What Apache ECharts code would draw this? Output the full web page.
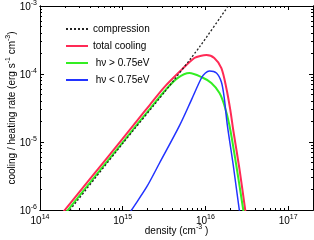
<!DOCTYPE html>
<html><head><meta charset="utf-8">
<script src="https://cdn.jsdelivr.net/npm/echarts@6/dist/echarts.min.js"></script>
<style>html,body{margin:0;padding:0;background:#fff}#c{width:314px;height:240px}</style>
</head><body><div id="c"></div>
<script>
// ---- data ----
const compressionDensity = [2.3e14, 1.0e15, 3.21e15, 8.47e15, 1.89e16, 2.1e16];
const compressionRate    = [1.0e-6, 9.5e-6, 5.43e-5, 2.49e-4, 1.0e-3, 1.2e-3];

const totalDensity = [1.78e14, 3.98e14, 1.0e15, 1.58e15, 2.11e15, 3.21e15, 5.14e15, 7.36e15, 8.91e15, 1.03e16, 1.28e16, 1.56e16, 1.79e16, 2.0e16, 2.17e16, 2.57e16, 3.03e16, 3.24e16];
const totalRate    = [8.4e-7, 2.82e-6, 1.12e-5, 2.24e-5, 3.47e-5, 6.46e-5, 1.15e-4, 1.72e-4, 1.86e-4, 1.90e-4, 1.72e-4, 1.22e-4, 6.22e-5, 2.96e-5, 1.50e-5, 4.15e-6, 1.0e-6, 5.6e-7];

const hardDensity = [2.0e14, 3.98e14, 1.0e15, 1.58e15, 2.11e15, 3.21e15, 4.6e15, 6.41e15, 8.95e15, 1.18e16, 1.48e16, 1.69e16, 1.95e16, 2.36e16, 2.87e16, 3.03e16];
const hardRate    = [8.8e-7, 2.48e-6, 9.9e-6, 1.97e-5, 3.02e-5, 5.62e-5, 8.7e-5, 1.035e-4, 9.03e-5, 7.38e-5, 5.26e-5, 3.5e-5, 1.78e-5, 4.59e-6, 1.0e-6, 6.6e-7];

const softDensity = [1.15e15, 1.28e15, 1.95e15, 2.79e15, 4.86e15, 6.78e15, 8.95e15, 1.0e16, 1.12e16, 1.36e16, 1.56e16, 1.69e16, 1.84e16, 2.17e16, 2.57e16, 2.72e16];
const softRate    = [8.1e-7, 1.0e-6, 2.18e-6, 4.91e-6, 1.74e-5, 4.17e-5, 8.73e-5, 1.035e-4, 1.107e-4, 1.035e-4, 7.62e-5, 4.44e-5, 1.78e-5, 4.59e-6, 1.0e-6, 6.6e-7];

const seriesNames = ['compression', 'total cooling', ' h\u03bd > 0.75eV', ' h\u03bd < 0.75eV'];

const xMajorTicks = [1e14, 1e15, 1e16, 1e17];
const yMajorTicks = [1e-6, 1e-5, 1e-4, 1e-3];
const xMin = 1e14, xMax = 2e17, yMin = 1e-6, yMax = 1e-3;

// minor tick positions 2..9 x 10^n
function minorTicks(lo, hi, min, max) {
  const out = [];
  for (let n = lo; n <= hi; n++) for (let k = 2; k <= 9; k++) {
    const v = k * Math.pow(10, n);
    if (v > min && v < max) out.push(v);
  }
  return out;
}
const xMinorTicks = minorTicks(14, 17, xMin, xMax);
const yMinorTicks = minorTicks(-6, -4, yMin, yMax);

const zip = (a, b) => a.map((v, i) => [v, b[i]]);
const FONT = 'Liberation Sans';
const rich = {
  b: {fontSize: 10, fontFamily: FONT, color: '#000', lineHeight: 12, verticalAlign: 'bottom'},
  s: {fontSize: 7, fontFamily: FONT, color: '#000', lineHeight: 12, verticalAlign: 'top'}
};
const expFmt = v => '{b|10}{s|' + Math.round(Math.log10(v)) + '}';

function xAxisDef(pos, ticks, len, labels) {
  return {
    type: 'log', logBase: 10, min: xMin, max: xMax, position: pos, gridIndex: 0,
    axisLine: {show: true, lineStyle: {color: '#000', width: 1}},
    axisTick: {show: true, inside: true, length: len, lineStyle: {color: '#000', width: 1}, customValues: ticks},
    axisLabel: labels ? {show: true, customValues: ticks, formatter: expFmt, margin: 4, rich: rich} : {show: false},
    splitLine: {show: false}, minorTick: {show: false}
  };
}
function yAxisDef(pos, ticks, len, labels) {
  return {
    type: 'log', logBase: 10, min: yMin, max: yMax, position: pos, gridIndex: 0,
    axisLine: {show: true, lineStyle: {color: '#000', width: 1}},
    axisTick: {show: true, inside: true, length: len, lineStyle: {color: '#000', width: 1}, customValues: ticks},
    axisLabel: labels ? {show: true, customValues: ticks, formatter: expFmt, margin: 3, rich: rich} : {show: false},
    splitLine: {show: false}, minorTick: {show: false}
  };
}

const xMain = xAxisDef('bottom', xMajorTicks, 4, true);
xMain.name = '{b|density (cm}{s|-3}{b| )}';
xMain.nameLocation = 'middle';
xMain.nameGap = 14;
xMain.nameMoveOverlap = false;
xMain.nameTextStyle = {rich: rich};
const yMain = yAxisDef('left', yMajorTicks, 4, true);
yMain.name = '{b|cooling / heating rate (erg s}{s|-1}{b| cm}{s|-3}{b|)}';
yMain.nameLocation = 'middle';
yMain.nameGap = 23;
yMain.nameMoveOverlap = false;
yMain.nameTextStyle = {rich: rich};

const chart = echarts.init(document.getElementById('c'), null, {renderer: 'canvas'});
chart.setOption({
  animation: false,
  backgroundColor: '#fff',
  grid: {left: 40, right: 1, top: 6, bottom: 30, containLabel: false, outerBoundsMode: 'none'},
  legend: {
    orient: 'vertical', left: 60, top: 19, itemWidth: 22, itemHeight: 10, itemGap: 7,
    itemStyle: {opacity: 0},
    textStyle: {fontSize: 10, fontFamily: FONT, color: '#000'},
    data: seriesNames
  },
  xAxis: [xMain, xAxisDef('bottom', xMinorTicks, 2, false), xAxisDef('top', xMajorTicks, 4, false), xAxisDef('top', xMinorTicks, 2, false)],
  yAxis: [yMain, yAxisDef('left', yMinorTicks, 2, false), yAxisDef('right', yMajorTicks, 4, false), yAxisDef('right', yMinorTicks, 2, false)],
  series: [
    {name: seriesNames[0], type: 'line', data: zip(compressionDensity, compressionRate), showSymbol: false, symbol: 'none', smooth: 0.2,
     lineStyle: {color: '#222', width: 1.3, type: [2, 2]}, itemStyle: {color: '#222'}, z: 5},
    {name: seriesNames[1], type: 'line', data: zip(totalDensity, totalRate), showSymbol: false, symbol: 'none', smooth: 0.3,
     lineStyle: {color: '#ff2a55', width: 2}, itemStyle: {color: '#ff2a55'}, z: 2},
    {name: seriesNames[2], type: 'line', data: zip(hardDensity, hardRate), showSymbol: false, symbol: 'none', smooth: 0.3,
     lineStyle: {color: '#33ee22', width: 2}, itemStyle: {color: '#33ee22'}, z: 3},
    {name: seriesNames[3], type: 'line', data: zip(softDensity, softRate), showSymbol: false, symbol: 'none', smooth: 0.3,
     lineStyle: {color: '#2233ff', width: 1.5}, itemStyle: {color: '#2233ff'}, z: 4}
  ]
});
</script></body></html>
